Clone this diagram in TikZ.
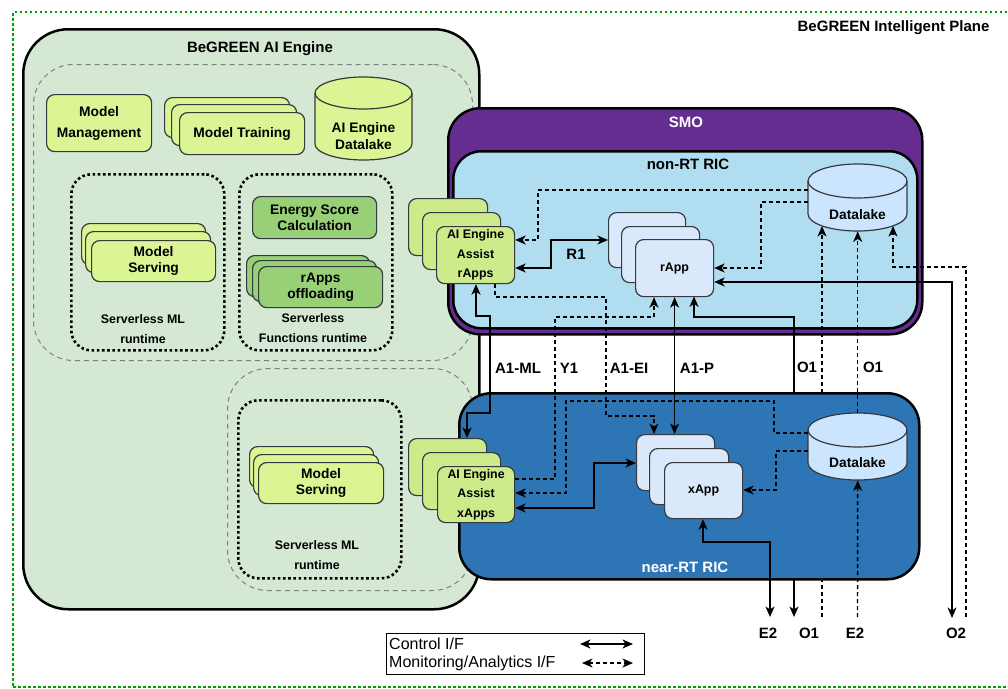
\documentclass[tikz,border=0pt]{standalone}
\usepackage{fontspec}
\setmainfont{Liberation Sans}
\usetikzlibrary{arrows.meta,calc}
\definecolor{aieng}{HTML}{D5E8D4}
\definecolor{limefill}{HTML}{DBF594}
\definecolor{assistfill}{HTML}{CDEB8B}
\definecolor{greenfill}{HTML}{97D077}
\definecolor{boxline}{HTML}{36393D}
\definecolor{smofill}{HTML}{652D90}
\definecolor{nonrt}{HTML}{B1DDF0}
\definecolor{nearrt}{HTML}{2E75B6}
\definecolor{appfill}{HTML}{DAE8FC}
\definecolor{dlfill}{HTML}{CCE5FF}
\definecolor{planegreen}{HTML}{00A000}
\definecolor{regiongray}{HTML}{808080}
\newcommand\fttl{\bfseries\fontsize{15}{18}\selectfont}
\newcommand\ftbox{\bfseries\fontsize{13.8}{16.5}\selectfont}
\newcommand\ftsm{\bfseries\fontsize{12.4}{19.5}\selectfont}
\newcommand\ftlab{\bfseries\fontsize{15}{18}\selectfont}
\newcommand\ftleg{\fontsize{16}{19}\selectfont}
\tikzset{
  >={Stealth[length=10.5pt,width=9pt,inset=3pt]},
  box/.style={rectangle, rounded corners=8pt, draw=boxline, line width=1.2pt, anchor=north west, inner sep=0pt, align=center},
  cont/.style={rectangle, draw=black, line width=2.5pt, anchor=north west, inner sep=0pt},
  region/.style={rectangle, draw=regiongray, line width=1pt, dash pattern=on 5pt off 4pt, rounded corners=40pt, anchor=north west, inner sep=0pt},
  dotbox/.style={rectangle, draw=black, line width=2.6pt, dash pattern=on 2.6pt off 2.6pt, rounded corners=20pt, anchor=north west, inner sep=0pt},
  txt/.style={inner sep=0pt, align=center},
  lab/.style={inner sep=0pt, font=\ftlab},
  ghost/.style={rectangle, draw=none, anchor=north west, inner sep=0pt},
  ctl/.style={draw=black, line width=1.4pt},
  mon/.style={draw=black, line width=1.4pt, dash pattern=on 4pt off 3pt},
  cylfill/.style={draw=boxline, line width=1.2pt},
}
\begin{document}
\begin{tikzpicture}[x=1pt,y=-1pt]
\useasboundingbox (0,0) rectangle (1008,688);
% plane
\node[rectangle, draw=planegreen, line width=2.4pt, dash pattern=on 2.4pt off 2.6pt, anchor=north west, inner sep=0pt, minimum width=1002pt, minimum height=675pt] (plane) at (12,11) {};
\node[txt, font=\fttl] (planet) at (893.5,28) {BeGREEN Intelligent Plane};

% AI engine
\node[cont, fill=aieng, rounded corners=45pt, minimum width=456pt, minimum height=580pt] (aie) at (22,28) {};
\node[txt, font=\fttl] (aiet) at (260,49) {BeGREEN AI Engine};
\node[region, minimum width=439pt, minimum height=296pt] (reg1) at (33,64) {};
\node[region, minimum width=245pt, minimum height=222pt] (reg2) at (227,368) {};
\node[dotbox, minimum width=153pt, minimum height=176pt] (dot1) at (70,173) {};
\node[dotbox, minimum width=153pt, minimum height=176pt] (dot2) at (238,173) {};
\node[dotbox, minimum width=163pt, minimum height=178pt] (dot3) at (237,399) {};

\node[box, fill=limefill, minimum width=105pt, minimum height=57pt, font=\ftbox] (mm) at (46,94) {Model\\[4.5pt]Management};
\node[box, fill=limefill, minimum width=125pt, minimum height=40pt] (mt1) at (164,97) {};
\node[box, fill=limefill, minimum width=125pt, minimum height=41pt] (mt2) at (171,104) {};
\node[box, fill=limefill, minimum width=125pt, minimum height=42pt, font=\ftbox] (mt3) at (179,112) {Model Training};

% AI engine datalake cylinder
\node[ghost, minimum width=97pt, minimum height=83pt] (aidl) at (315,77) {};
\path[fill=limefill] (315,93) -- (315,144) arc[start angle=180,end angle=360,x radius=48.5pt,y radius=16pt] -- (412,93) arc[start angle=0,end angle=180,x radius=48.5pt,y radius=16pt] -- cycle;
\draw[cylfill] (315,93) -- (315,144) arc[start angle=180,end angle=360,x radius=48.5pt,y radius=16pt] -- (412,93);
\draw[cylfill] (363.5,93) ellipse[x radius=48.5pt,y radius=16pt];
\node[txt, font=\ftbox] (aidlt) at (363.5,136) {AI Engine\\Datalake};

% serverless ML (top)
\node[box, fill=limefill, minimum width=124pt, minimum height=41pt] (ms1) at (81,223) {};
\node[box, fill=limefill, minimum width=125pt, minimum height=41pt] (ms2) at (85,231) {};
\node[box, fill=limefill, minimum width=124pt, minimum height=41pt, font=\ftbox] (ms3) at (91,240) {Model\\Serving};
\node[txt, font=\ftsm] (dot1t) at (143,329) {Serverless ML\\runtime};

% serverless functions
\node[box, fill=greenfill, minimum width=124pt, minimum height=42pt, font=\ftbox] (esc) at (252,196) {Energy Score\\Calculation};
\node[box, fill=greenfill, minimum width=123pt, minimum height=41pt] (ro1) at (246,255) {};
\node[box, fill=greenfill, minimum width=124pt, minimum height=41pt] (ro2) at (252,260) {};
\node[box, fill=greenfill, minimum width=124pt, minimum height=41pt, font=\ftbox] (ro3) at (258,266) {rApps\\offloading};
\node[txt, font=\ftsm] (dot2t) at (313,328) {Serverless\\Functions runtime};

% serverless ML (bottom)
\node[box, fill=limefill, minimum width=124pt, minimum height=41pt] (mb1) at (249,446) {};
\node[box, fill=limefill, minimum width=125pt, minimum height=41pt] (mb2) at (253,454) {};
\node[box, fill=limefill, minimum width=125pt, minimum height=41pt, font=\ftbox] (mb3) at (258,462) {Model\\Serving};
\node[txt, font=\ftsm] (dot3t) at (317,555) {Serverless ML\\runtime};

% SMO and non-RT RIC
\node[cont, fill=smofill, rounded corners=32pt, minimum width=474pt, minimum height=226pt] (smo) at (447,107) {};
\node[txt, font=\fttl, text=white] (smot) at (686,122) {SMO};
\node[cont, fill=nonrt, rounded corners=28pt, minimum width=464pt, minimum height=177pt] (nrt) at (452,150) {};
\node[txt, font=\fttl] (nrtt) at (688,164) {non-RT RIC};

% lines passing behind the near-RT RIC
\coordinate (oOne) at (794,617);
\coordinate (oOneD) at (822,617);
\coordinate (dlNb1) at (822,226);
\node[ghost, minimum width=78pt, minimum height=57pt] (rp3g) at (635,239) {};
\draw[ctl,<->] (rp3g.south -| 694,0) -- (694,317) -- (794,317) -- (oOne);
\draw[mon,->] (oOneD) -- (dlNb1);

% near-RT RIC
\node[cont, fill=nearrt, rounded corners=32pt, minimum width=460pt, minimum height=186pt] (nrr) at (458,392) {};
\node[txt, font=\fttl, text=white] (nrrt) at (685,567) {near-RT RIC};

% AI Engine Assist rApps
\node[box, fill=assistfill, minimum width=79pt, minimum height=57pt] (rA1) at (408,198) {};
\node[box, fill=assistfill, minimum width=78pt, minimum height=57pt] (rA2) at (422,212) {};
\node[box, fill=assistfill, minimum width=78pt, minimum height=57pt, font=\ftsm] (rA3) at (436,226) {AI Engine\\Assist\\rApps};
% AI Engine Assist xApps
\node[box, fill=assistfill, minimum width=78pt, minimum height=57pt] (xA1) at (408,438) {};
\node[box, fill=assistfill, minimum width=78pt, minimum height=57pt] (xA2) at (422,452) {};
\node[box, fill=assistfill, minimum width=77pt, minimum height=56pt, font=\ftsm] (xA3) at (437,466) {AI Engine\\Assist\\xApps};

% rApps
\node[box, fill=appfill, minimum width=77pt, minimum height=55pt] (rp1) at (608,212) {};
\node[box, fill=appfill, minimum width=78pt, minimum height=56pt] (rp2) at (621,226) {};
\node[box, fill=appfill, minimum width=78pt, minimum height=57pt, font=\ftsm] (rp3) at (635,239) {rApp};
% xApps
\node[box, fill=appfill, minimum width=78pt, minimum height=56pt] (xp1) at (636,434) {};
\node[box, fill=appfill, minimum width=79pt, minimum height=56pt] (xp2) at (649,448) {};
\node[box, fill=appfill, minimum width=78pt, minimum height=56pt, font=\ftsm] (xp3) at (664,462) {xApp};

% non-RT datalake
\node[ghost, minimum width=99pt, minimum height=67pt] (dlN) at (808,164) {};
\path[fill=dlfill] (808,181) -- (808,214) arc[start angle=180,end angle=360,x radius=49.5pt,y radius=17pt] -- (907,181) arc[start angle=0,end angle=180,x radius=49.5pt,y radius=17pt] -- cycle;
\draw[cylfill] (808,181) -- (808,214) arc[start angle=180,end angle=360,x radius=49.5pt,y radius=17pt] -- (907,181);
\draw[cylfill] (857.5,181) ellipse[x radius=49.5pt,y radius=17pt];
\node[txt, font=\ftbox] (dlNt) at (857.5,215) {Datalake};

% near-RT datalake
\node[ghost, minimum width=99pt, minimum height=67pt] (dlR) at (808,413) {};
\path[fill=dlfill] (808,430) -- (808,463) arc[start angle=180,end angle=360,x radius=49.5pt,y radius=17pt] -- (907,430) arc[start angle=0,end angle=180,x radius=49.5pt,y radius=17pt] -- cycle;
\draw[cylfill] (808,430) -- (808,463) arc[start angle=180,end angle=360,x radius=49.5pt,y radius=17pt] -- (907,430);
\draw[cylfill] (857.5,430) ellipse[x radius=49.5pt,y radius=17pt];
\node[txt, font=\ftbox] (dlRt) at (857.5,463) {Datalake};

% control connectors
\coordinate (oTwo) at (952,618);
\coordinate (eTwoA) at (770,617);
\draw[ctl,<->] (rA3.east |- 0,268) -- (551,268) -- (551,240) -- (rp1.west |- 0,240);
\draw[ctl,<->] (rA3.south -| 476,0) -- (476,316) -- (490,316) -- (490,413) -- (467,413) -- (xA1.north -| 467,0);
\draw[ctl,<->] (rp3.south) -- (xp1.north -| rp3.south);
\draw[ctl,<->] (rp3.east |- 0,282) -- (952,282) -- (oTwo);
\draw[ctl,<->] (xA3.east |- 0,508) -- (594,508) -- (594,463) -- (xp1.west |- 0,463);
\draw[ctl,<->] (xp3.south -| 703,0) -- (703,542) -- (770,542) -- (eTwoA);

% monitoring connectors
\coordinate (oTwoD) at (966,617);
\coordinate (dlNb3) at (893,226);
\coordinate (eTwoD) at (857.5,617);
\draw[mon,->] (dlN.west |- 0,190) -- (538,190) -- (538,240) -- (rA3.east |- 0,240);
\draw[mon,->] (dlN.west |- 0,202) -- (761,202) -- (761,268) -- (rp3.east |- 0,268);
\draw[mon,->] (dlR.north) -- (dlN.south);
\draw[mon,->] (oTwoD) -- (966,267) -- (893,267) -- (dlNb3);
\draw[mon,->] (rA3.south -| 495,0) -- (495,297) -- (606,297) -- (606,416) -- (654,416) -- (xp1.north -| 654,0);
\draw[mon,->] (xA3.east |- 0,479) -- (555,479) -- (555,317) -- (654,317) -- (rp3.south -| 654,0);
\draw[mon,->] (dlR.west |- 0,433) -- (774,433) -- (774,401) -- (566,401) -- (566,493) -- (xA3.east |- 0,493);
\draw[mon,->] (dlR.west |- 0,451) -- (776,451) -- (776,490) -- (xp3.east |- 0,490);
\draw[mon,->] (eTwoD) -- (dlR.south);

% labels
\node[lab] (lR1) at (576,254) {R1};
\node[lab] (lA1ML) at (518,368) {A1-ML};
\node[lab] (lY1) at (569,368) {Y1};
\node[lab] (lA1EI) at (629,368) {A1-EI};
\node[lab] (lA1P) at (697,368) {A1-P};
\node[lab] (lO1a) at (807,367) {O1};
\node[lab] (lO1b) at (873,367) {O1};
\node[lab] (lE2a) at (768,633) {E2};
\node[lab] (lO1c) at (809,633) {O1};
\node[lab] (lE2b) at (855,633) {E2};
\node[lab] (lO2) at (956,633) {O2};

% legend
\node[rectangle, draw=black, line width=1pt, anchor=north west, inner sep=0pt, minimum width=258pt, minimum height=41pt] (leg) at (386,633) {};
\node[inner sep=0pt, anchor=west, font=\ftleg] (leg1) at (389,644) {Control I/F};
\node[inner sep=0pt, anchor=west, font=\ftleg] (leg2) at (389,663) {Monitoring/Analytics I/F};
\coordinate (legA1) at (580,644);
\coordinate (legA2) at (633,644);
\coordinate (legB1) at (582,663);
\coordinate (legB2) at (633,663);
\draw[ctl,<->] (legA1) -- (legA2);
\draw[mon,<->] (legB1) -- (legB2);
\end{tikzpicture}
\end{document}
